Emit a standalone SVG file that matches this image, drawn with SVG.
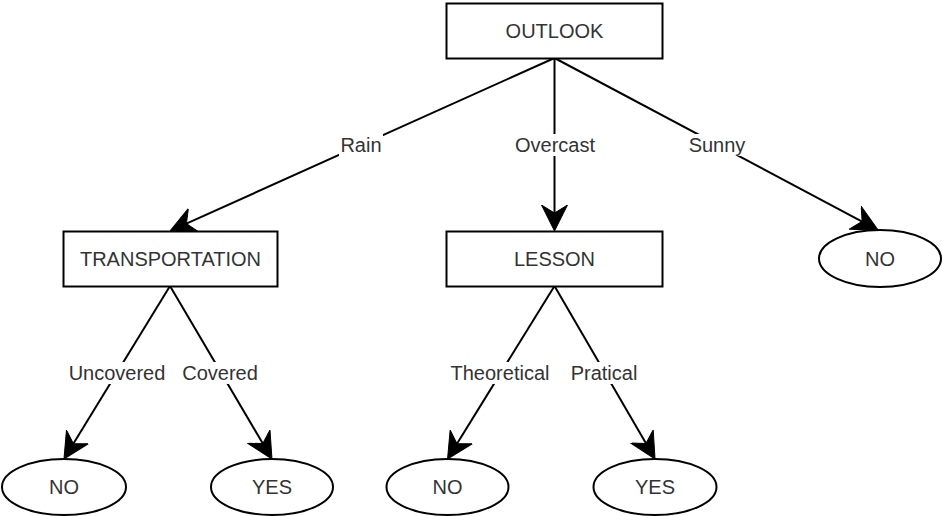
<svg xmlns="http://www.w3.org/2000/svg" width="942" height="516" viewBox="0 0 942 516">
<style>
.box{fill:#fff;stroke:#000;stroke-width:2}
.t{font-family:"Liberation Sans",Arial,Helvetica,sans-serif;font-size:20px;fill:#333;text-anchor:middle}
.e{stroke:#000;stroke-width:2;fill:none;marker-end:url(#arr)}
.lb{fill:#fff}
</style>
<defs>
<marker id="arr" viewBox="0 0 26 28" refX="16" refY="14" markerWidth="26" markerHeight="28" orient="auto" markerUnits="userSpaceOnUse">
<path d="M0,1 L26,14 L0,27 L8,14 Z" fill="#000" stroke="#000" stroke-width="1"/>
</marker>
</defs>
<rect width="942" height="516" fill="#fff"/>
<g id="connectors">
<line class="e" x1="554.5" y1="58" x2="179.1" y2="226.9"/>
<line class="e" x1="554.5" y1="58" x2="554.5" y2="221"/>
<line class="e" x1="554.5" y1="58" x2="869.2" y2="225.3"/>
<line class="e" x1="170" y1="286" x2="69.2" y2="450.5"/>
<line class="e" x1="170" y1="286" x2="266.9" y2="450.4"/>
<line class="e" x1="554.5" y1="286" x2="452.8" y2="450.5"/>
<line class="e" x1="554.5" y1="286" x2="650" y2="450.3"/>
<rect class="lb" x="339" y="134" width="44" height="22"/>
<text class="t" x="361" y="152">Rain</text>
<rect class="lb" x="513" y="134" width="84" height="22"/>
<text class="t" x="555" y="152">Overcast</text>
<rect class="lb" x="687" y="134" width="61" height="22"/>
<text class="t" x="717" y="152">Sunny</text>
<rect class="lb" x="67" y="362" width="101" height="22"/>
<text class="t" x="117" y="380">Uncovered</text>
<rect class="lb" x="181" y="362" width="79" height="22"/>
<text class="t" x="220" y="380">Covered</text>
<rect class="lb" x="449" y="362" width="103" height="22"/>
<text class="t" x="500" y="380">Theoretical</text>
<rect class="lb" x="569" y="362" width="71" height="22"/>
<text class="t" x="604" y="380">Pratical</text>
</g>
<g id="outlook">
<rect class="box" x="446.5" y="3.5" width="216" height="55"/>
<text class="t" x="554.5" y="38">OUTLOOK</text>
</g>
<g id="transportation">
<rect class="box" x="63.5" y="231.5" width="214" height="55"/>
<text class="t" x="170.5" y="266">TRANSPORTATION</text>
</g>
<g id="lesson">
<rect class="box" x="446.5" y="231.5" width="216" height="55"/>
<text class="t" x="554.5" y="266">LESSON</text>
</g>
<g id="no-sunny">
<ellipse class="box" cx="880" cy="258.5" rx="61" ry="28.5"/>
<text class="t" x="880" y="265.5">NO</text>
</g>
<g id="no-uncovered">
<ellipse class="box" cx="64" cy="487" rx="62" ry="28"/>
<text class="t" x="64" y="494">NO</text>
</g>
<g id="yes-covered">
<ellipse class="box" cx="272" cy="487" rx="61" ry="28"/>
<text class="t" x="272" y="494">YES</text>
</g>
<g id="no-theoretical">
<ellipse class="box" cx="447.5" cy="487" rx="61" ry="28"/>
<text class="t" x="447.5" y="494">NO</text>
</g>
<g id="yes-pratical">
<ellipse class="box" cx="655" cy="487" rx="61.5" ry="28"/>
<text class="t" x="655" y="494">YES</text>
</g>
</svg>
